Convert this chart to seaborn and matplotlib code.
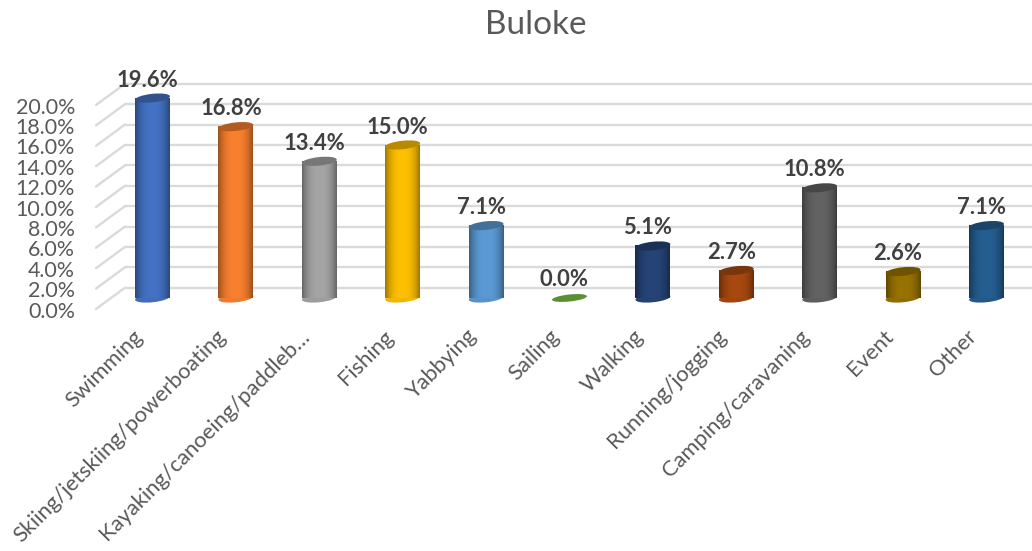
import numpy as np
import pandas as pd
import seaborn as sns
import matplotlib
matplotlib.use("Agg")
import matplotlib.pyplot as plt
from matplotlib.patches import Ellipse
from matplotlib.colors import to_rgb
from matplotlib.transforms import Affine2D, ScaledTranslation

categories = ["Swimming", "Skiing/jetskiing/powerboating", "Kayaking/canoeing/paddleb…",
              "Fishing", "Yabbying", "Sailing", "Walking", "Running/jogging",
              "Camping/caravaning", "Event", "Other"]
values = [19.6, 16.8, 13.4, 15.0, 7.1, 0.0, 5.1, 2.7, 10.8, 2.6, 7.1]
colors = ["#4472C4", "#F9802F", "#A5A5A5", "#FFC000", "#5B9BD5", "#5A8F33",
          "#264478", "#A8490F", "#636363", "#997300", "#255E91"]
y_ticks = list(range(0, 21, 2))

W, H = 1032, 551
sns.set_theme(style="white")
plt.rcParams["font.family"] = ["Lato", "DejaVu Sans"]

fig = plt.figure(figsize=(W / 100, H / 100), dpi=100, facecolor="white")
# axes box in pixels: left 96, right 1032, top 60, bottom 315
ax = fig.add_axes([96 / W, 1 - 315 / H, (1032 - 96) / W, (315 - 60) / H])
PX = 10.2          # pixels per percent
BASE = 298         # pixel row of the value 0 at mid depth
STEP = 83.4        # pixels per category
X0 = 152.5
xlim = ((96 - X0) / STEP, (1032 - X0) / STEP)
ylim = ((BASE - 315) / PX, (BASE - 60) / PX)

df = pd.DataFrame({"activity": categories, "share": values})
sns.barplot(data=df, x="activity", y="share", hue="activity", palette=colors,
            width=35 / STEP, legend=False, saturation=1, ax=ax, zorder=3)
ax.set_xlim(xlim)
ax.set_ylim(ylim)
ax.set_xlabel("")
ax.set_ylabel("")
sns.despine(ax=ax, left=True, bottom=True, top=True, right=True)

# Walls of the 3D frame, shifted by depth
GRID = "#DADADA"
BACK = 10.3 / PX
FRONT = -11 / PX
back_x = (125 - X0) / STEP
for t in y_ticks:
    ax.plot([back_x, xlim[1]], [t + BACK, t + BACK], color=GRID, lw=1.7, zorder=1, clip_on=False)
    ax.plot([xlim[0], back_x], [t + FRONT, t + BACK], color=GRID, lw=1.7, zorder=1, clip_on=False)

# Cylinders
u = np.linspace(-1, 1, 64)
shade = 1 - 0.38 * np.abs(u) ** 2.6
fig.canvas.draw()
for bar, val, col in zip([p for c in ax.containers for p in c], values, colors):
    rgb = np.array(to_rgb(col))
    x, w = bar.get_x(), bar.get_width()
    cx = x + w / 2
    px = ax.transData.transform((cx, 0))
    top = ax.transData.transform((cx, val))
    wpx = w * STEP
    tf = lambda p: Affine2D().rotate_deg(6).translate(*p)
    bar.set_alpha(0)
    if val > 0:
        bottom = Ellipse((0, 0), wpx, 8.5, transform=tf(px), color=rgb * 0.95, zorder=3, lw=0)
        ax.add_patch(bottom)
        img = (rgb[None, None, :] * shade[None, :, None]).clip(0, 1)
        ax.imshow(img, extent=(x, x + w, 0, val), aspect="auto", zorder=3.1, interpolation="bilinear")
        ax.add_patch(Ellipse((0, 0), wpx, 8.5, transform=tf(top), color=rgb * 0.72, zorder=3.2, lw=0))
    else:
        ax.add_patch(Ellipse((0, 0), wpx, 7, transform=tf(px), color=rgb, zorder=3.2, lw=0))
    ax.annotate(f"{val:.1f}%", (cx, val), xytext=(-5, 18), textcoords="offset pixels",
                ha="center", va="center", fontsize=15.8, fontweight="bold", color="#404040",
                annotation_clip=False, zorder=5)
ax.set_xlim(xlim)
ax.set_ylim(ylim)

# Value axis labels sit on the front edge
ax.set_yticks([])
for t in y_ticks:
    ax.annotate(f"{t:.1f}%", (xlim[0], t + FRONT), xytext=(-21, -2.5), textcoords="offset pixels",
                ha="right", va="center", fontsize=15.4, color="#595959", annotation_clip=False)

ax.set_xticks(range(len(categories)))
ax.set_xticklabels(categories, rotation=45, ha="right", rotation_mode="anchor",
                   fontsize=15.8, color="#595959")
ax.tick_params(axis="x", length=0, pad=8)
shift = ScaledTranslation(-20 / 100, 0, fig.dpi_scale_trans)
for lab in ax.get_xticklabels():
    lab.set_transform(lab.get_transform() + shift)

fig.text(536 / W, 1 - 25 / H, "Buloke", ha="center", va="center", fontsize=24, color="#595959")
fig.savefig("out.png", dpi=100)
